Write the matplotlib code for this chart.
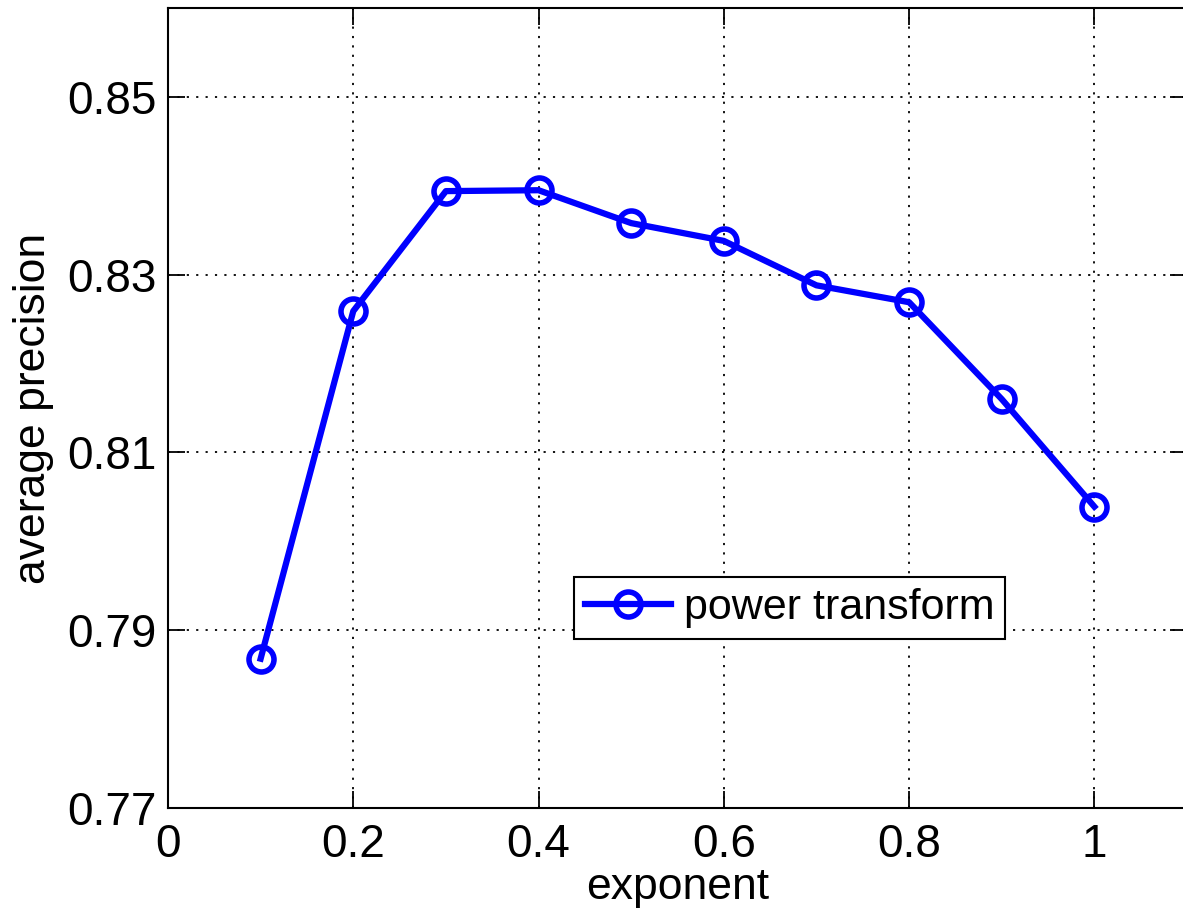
import matplotlib.pyplot as plt

exponent = [0.1, 0.2, 0.3, 0.4, 0.5, 0.6, 0.7, 0.8, 0.9, 1.0]
avg_precision = [0.7868, 0.8259, 0.8394, 0.8395, 0.8358, 0.8338, 0.8288, 0.8269, 0.8160, 0.8039]

x_ticks = [0, 0.2, 0.4, 0.6, 0.8, 1.0]
x_tick_labels = ["0", "0.2", "0.4", "0.6", "0.8", "1"]
y_ticks = [0.77, 0.79, 0.81, 0.83, 0.85]
y_tick_labels = ["0.77", "0.79", "0.81", "0.83", "0.85"]

plt.rcParams['font.family'] = ['Liberation Sans', 'DejaVu Sans']

fig = plt.figure(figsize=(11.83, 9.08), dpi=100)
ax = fig.add_axes([168 / 1183, 100 / 908, 1019 / 1183, 800 / 908])

ax.plot(exponent, avg_precision, color='#0000ff', linewidth=4.5,
        marker='o', markersize=18, markerfacecolor='none',
        markeredgewidth=4, markeredgecolor='#0000ff',
        label='power transform', clip_on=False)

ax.set_xlim(0, 1.1)
ax.set_ylim(0.77, 0.86)
ax.set_xticks(x_ticks)
ax.set_xticklabels(x_tick_labels)
ax.set_yticks(y_ticks)
ax.set_yticklabels(y_tick_labels)

ax.grid(True, color='black', linestyle=(0, (1.2, 4)), linewidth=1.3)
ax.tick_params(direction='in', length=12, width=1.3, labelsize=33,
               top=True, right=True)
ax.tick_params(axis='x', pad=11)
ax.tick_params(axis='y', pad=8)
for spine in ax.spines.values():
    spine.set_linewidth(1.5)

ax.set_xlabel('exponent', fontsize=32, labelpad=0)
ax.set_ylabel('average precision', fontsize=32, labelpad=10)

leg = ax.legend(loc='center', bbox_to_anchor=(0.61, 0.25), fontsize=31,
                fancybox=False, framealpha=1, edgecolor='black',
                handlelength=2.0, handletextpad=0.3, borderpad=0.25,
                borderaxespad=0)
leg.get_frame().set_linewidth(1.5)

fig.savefig('out.png', dpi=100)
